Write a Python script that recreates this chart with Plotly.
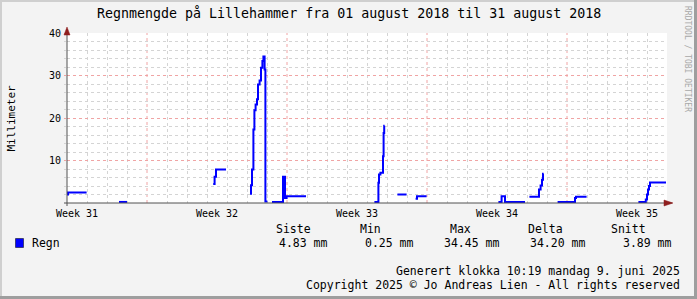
import plotly.graph_objects as go

# ---------------- data ----------------
# x = days since 01 Aug 2018 00:00, y = accumulated rain (mm); None = no data
rain_day = [0.0, 0.05, 0.98, None,
            2.6, 3.0, None,
            7.31, 7.38, 7.45, 7.95, None,
            9.15, 9.2, 9.25, 9.32, 9.37, 9.43, 9.5, 9.55, 9.63, 9.7, 9.77, 9.82, 9.88, 9.92, 10.02, None,
            10.25, 10.8, 10.9, 10.98, 11.95, None,
            15.37, 15.57, 15.6, 15.67, 15.8, 15.83, 15.86, 15.88, None,
            16.52, 16.98, None,
            17.43, 17.5, 17.98, None,
            21.57, 21.73, 21.9, 22.9, None,
            23.12, 23.6, 23.68, 23.75, 23.8, 23.83, None,
            24.53, 25.4, 25.45, 25.98, None,
            28.57, 28.94, 29.0, 29.05, 29.1, 29.15, 29.95]
rain_mm = [2.0, 2.5, 2.5, None,
           0.25, 0.25, None,
           4.5, 6.2, 7.9, 7.9, None,
           2.2, 4.2, 7.9, 17.3, 21.8, 23.2, 24.4, 27.9, 28.8, 31.8, 33.4, 34.45, 31.4, 0.35, 0.35, None,
           0.25, 6.2, 1.2, 1.6, 1.6, None,
           0.25, 4.75, 6.7, 7.1, 11.0, 16.5, 18.2, 18.2, None,
           2.0, 2.0, None,
           1.0, 1.6, 1.6, None,
           0.25, 1.6, 0.25, 0.25, None,
           1.5, 3.2, 4.1, 5.5, 6.9, 6.9, None,
           0.25, 1.2, 1.5, 1.5, None,
           0.25, 0.8, 2.0, 3.2, 4.0, 4.83, 4.83]

week_label_pos = [0.5, 7.5, 14.5, 21.5, 28.5]
week_labels = ["Week 31", "Week 32", "Week 33", "Week 34", "Week 35"]
week_grid_pos = [4, 11, 18, 25]
day_grid_pos = [d for d in range(1, 30) if d not in week_grid_pos]
y_tick_vals = [10, 20, 30, 40]
y_minor_vals = [v for v in range(2, 40, 2) if v not in y_tick_vals]

legend_headers = ["Siste", "Min", "Max", "Delta", "Snitt"]
legend_values = [4.83, 0.25, 34.45, 34.20, 3.89]
series_name = "Regn"

title_text = "Regnmengde på Lillehammer fra 01 august 2018 til 31 august 2018"
y_title = "Millimeter"
footer_lines = ["Generert klokka 10:19 mandag 9. juni 2025",
                "Copyright 2025 © Jo Andreas Lien - All rights reserved"]
watermark = "RRDTOOL / TOBI OETIKER"

# ---------------- layout geometry ----------------
W, H = 697, 299
L, R, T, B = 67, 30, 33, 96
PW, PH = W - L - R, H - T - B
FONT = "DejaVu Sans Mono"
BG = "#F3F3F3"
GRID = "#D4D4D4"
MGRID = "#F0A4A4"
AXIS = "#505050"
ARROW = "#8F1F1F"
DASH = "dot"


def px(x):
    return (x - L) / PW


def py(y):
    return (H - B - y) / PH


fig = go.Figure()
fig.add_trace(go.Scatter(
    x=rain_day, y=rain_mm, mode="lines", line=dict(color="#0000FF", width=2, shape="hv"),
    connectgaps=False, showlegend=False, hoverinfo="skip"))

fig.update_layout(
    width=W, height=H, margin=dict(l=L, r=R, t=T, b=B, pad=0),
    paper_bgcolor=BG, plot_bgcolor="#FFFFFF",
    font=dict(family=FONT, size=10, color="#000000"),
    showlegend=False,
    xaxis=dict(range=[0, 30], showticklabels=False, showline=False, zeroline=False,
               tickmode="array", tickvals=day_grid_pos,
               showgrid=True, gridcolor=GRID, griddash=DASH, gridwidth=1, ticks=""),
    xaxis2=dict(range=[0, 30], overlaying="x", side="bottom", anchor="y",
                tickvals=week_label_pos, ticktext=week_labels, showgrid=False, zeroline=False,
                showline=False, ticks="", ticklabelstandoff=3, tickfont=dict(family=FONT, size=10)),
    yaxis=dict(range=[0, 40], tickmode="array", tickvals=y_tick_vals, showgrid=True, gridcolor=MGRID,
               griddash=DASH, gridwidth=1, zeroline=False, showline=False,
               ticks="outside", ticklen=2, tickcolor=MGRID, ticklabelstandoff=1,
               tickfont=dict(family=FONT, size=10),
               minor=dict(tickmode="array", tickvals=y_minor_vals, showgrid=True, gridcolor=GRID,
                          griddash=DASH, gridwidth=1, ticks="outside", ticklen=2, tickcolor=GRID)),
)

# make xaxis2 visible (tick labels only) by attaching an empty trace
fig.add_trace(go.Scatter(x=[], y=[], xaxis="x2", yaxis="y", showlegend=False))

shapes = []
# weekly (major) vertical grid lines
for wx in week_grid_pos:
    shapes.append(dict(type="line", xref="x", yref="paper", x0=wx, x1=wx, y0=0, y1=1,
                       line=dict(color=MGRID, width=1, dash=DASH), layer="below"))
# outer frame shading
shapes.append(dict(type="rect", xref="paper", yref="paper", x0=px(0), x1=px(W), y0=py(0), y1=py(2),
                   fillcolor="#CFCFCF", line=dict(width=0), layer="below"))
shapes.append(dict(type="rect", xref="paper", yref="paper", x0=px(0), x1=px(2), y0=py(0), y1=py(H),
                   fillcolor="#CFCFCF", line=dict(width=0), layer="below"))
shapes.append(dict(type="rect", xref="paper", yref="paper", x0=px(W - 3), x1=px(W), y0=py(0), y1=py(H),
                   fillcolor="#9E9E9E", line=dict(width=0), layer="below"))
shapes.append(dict(type="rect", xref="paper", yref="paper", x0=px(0), x1=px(W), y0=py(H - 3), y1=py(H),
                   fillcolor="#9E9E9E", line=dict(width=0), layer="below"))
# axes lines
shapes.append(dict(type="line", xref="paper", yref="paper", x0=px(64), x1=px(672), y0=0, y1=0,
                   line=dict(color=AXIS, width=1), layer="above"))
shapes.append(dict(type="line", xref="paper", yref="paper", x0=0, x1=0, y0=py(206), y1=py(29),
                   line=dict(color=AXIS, width=1), layer="above"))
# arrows
shapes.append(dict(type="path", xref="paper", yref="paper",
                   path=f"M {px(664)},{py(200)} L {px(673)},{py(203)} L {px(664)},{py(206)} Z",
                   fillcolor=ARROW, line=dict(color=ARROW, width=0.5), layer="above"))
shapes.append(dict(type="path", xref="paper", yref="paper",
                   path=f"M {px(64)},{py(35)} L {px(67)},{py(27)} L {px(70)},{py(35)} Z",
                   fillcolor=ARROW, line=dict(color=ARROW, width=0.5), layer="above"))
# legend colour box
shapes.append(dict(type="rect", xref="paper", yref="paper", x0=px(15.5), x1=px(23.5), y0=py(247.5), y1=py(238.5),
                   fillcolor="#0000FF", line=dict(color="#000000", width=0.5), layer="above"))
fig.update_layout(shapes=shapes)

ann = []
ann.append(dict(text=title_text, xref="paper", yref="paper", x=px(349), y=py(13.5), xanchor="center",
                yanchor="middle", showarrow=False, font=dict(family=FONT, size=13.3, color="#000000")))
ann.append(dict(text=y_title, xref="paper", yref="paper", x=px(11), y=py(118.5), xanchor="center",
                yanchor="middle", textangle=-90, showarrow=False, font=dict(family=FONT, size=11)))
ann.append(dict(text=watermark, xref="paper", yref="paper", x=px(688), y=py(59), xanchor="center",
                yanchor="middle", textangle=90, showarrow=False, font=dict(family=FONT, size=8, color="#A8A8A8")))
ann.append(dict(text=series_name, xref="paper", yref="paper", x=px(29.5), y=py(243), xanchor="left",
                yanchor="middle", showarrow=False, font=dict(family=FONT, size=11.5)))
header_centers = [293, 370, 460.5, 545, 628]
value_starts = [277, 363, 442, 528, 621]
for hname, hc, v, vs in zip(legend_headers, header_centers, legend_values, value_starts):
    ann.append(dict(text=hname, xref="paper", yref="paper", x=px(hc), y=py(229), xanchor="center",
                    yanchor="middle", showarrow=False, font=dict(family=FONT, size=11.5)))
    ann.append(dict(text=f"{v:.2f} mm", xref="paper", yref="paper", x=px(vs), y=py(243), xanchor="left",
                    yanchor="middle", showarrow=False, font=dict(family=FONT, size=11.5)))
for line_txt, yy in zip(footer_lines, [271, 285]):
    ann.append(dict(text=line_txt, xref="paper", yref="paper", x=px(681.5), y=py(yy), xanchor="right",
                    yanchor="middle", showarrow=False, font=dict(family=FONT, size=11.5)))
fig.update_layout(annotations=ann)

fig.write_html("out.html")
